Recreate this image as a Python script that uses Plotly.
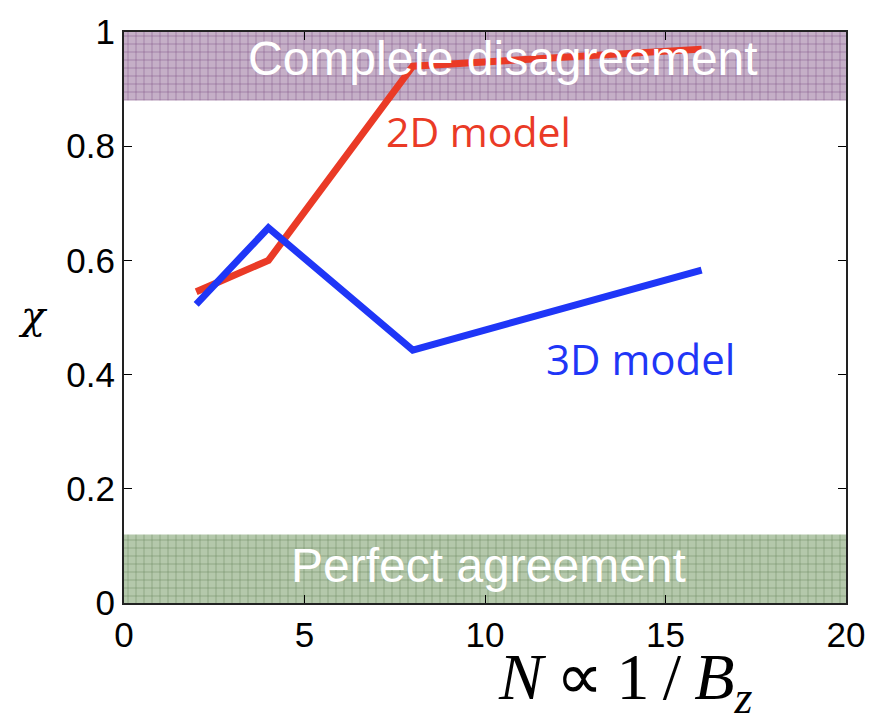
import plotly.graph_objects as go

# Field-strength sweep: N is inversely proportional to B_z
n_values = [2, 4, 8, 16]
chi_2d = [0.545, 0.60, 0.94, 0.97]
chi_3d = [0.523, 0.657, 0.443, 0.583]

# Agreement regions of the chi scale
disagree_band = [0.88, 1.0]
agree_band = [0.0, 0.12]

x_ticks = [0, 5, 10, 15, 20]
y_ticks = [0, 0.2, 0.4, 0.6, 0.8, 1]
y_tick_text = ["0", "0.2", "0.4", "0.6", "0.8", "1"]

RED = "#EA3A26"
BLUE = "#1F36F7"

fig = go.Figure()

fig.add_trace(go.Scatter(x=n_values, y=chi_2d, mode="lines",
                         line=dict(color=RED, width=7), showlegend=False))
fig.add_trace(go.Scatter(x=n_values, y=chi_3d, mode="lines",
                         line=dict(color=BLUE, width=7), showlegend=False))

# Hatched bands spanning the full N range, drawn over the curves
for band, bg, fg in [(disagree_band, "#B89EBB", "#6E3A74"),
                     (agree_band, "#A3BC99", "#4F7444")]:
    fig.add_trace(go.Bar(
        x=[10], y=[band[1] - band[0]], base=[band[0]], width=[20],
        marker=dict(color=bg, line=dict(width=0),
                    pattern=dict(shape="+", size=8, solidity=0.15,
                                 fgcolor=fg, bgcolor=bg, fgopacity=0.9)),
        opacity=0.82, showlegend=False, hoverinfo="skip"))

sans = "Liberation Sans, Arial, sans-serif"
serif = "Liberation Serif, Times New Roman, serif"
annotations = [
    dict(x=10.5, y=0.953, text="Complete disagreement", showarrow=False,
         font=dict(family=sans, size=48, color="white")),
    dict(x=10.1, y=0.065, text="Perfect agreement", showarrow=False,
         font=dict(family=sans, size=48, color="white")),
    dict(x=9.82, y=0.826, text="2D model", showarrow=False,
         font=dict(family="Open Sans, sans-serif", size=41, color=RED)),
    dict(x=14.3, y=0.428, text="3D model", showarrow=False,
         font=dict(family="Open Sans, sans-serif", size=42, color=BLUE)),
    dict(x=10.3, xanchor="left", y=-0.214, yanchor="bottom", xref="x",
         yref="paper",
         text="<i>N</i>\u2009∝\u20091\u2009/\u2009<i>B</i><sub><i>z</i></sub>",
         showarrow=False,
         font=dict(family=serif, size=66, color="black")),
    dict(x=-0.15, y=0.505, xref="paper", yref="paper",
         text="<i>χ</i>", showarrow=False,
         font=dict(family="DejaVu Serif, serif", size=40, color="black")),
]

fig.update_layout(
    width=877, height=727,
    margin=dict(l=124, r=24, t=23, b=124),
    plot_bgcolor="white", paper_bgcolor="white",
    barmode="overlay",
    annotations=annotations,
    xaxis=dict(range=[0, 20], tickvals=x_ticks, ticks="inside", ticklen=8,
               tickcolor="black", showline=True, linecolor="#222", linewidth=2,
               mirror="ticks", showgrid=False, zeroline=False,
               tickfont=dict(family=sans, size=35, color="black")),
    yaxis=dict(range=[0, 1], tickvals=y_ticks, ticktext=y_tick_text,
               ticks="inside", ticklen=8, tickcolor="black", showline=True,
               linecolor="#222", linewidth=2, mirror="ticks", showgrid=False,
               zeroline=False,
               tickfont=dict(family=sans, size=35, color="black")),
)

fig.write_html("out.html")
